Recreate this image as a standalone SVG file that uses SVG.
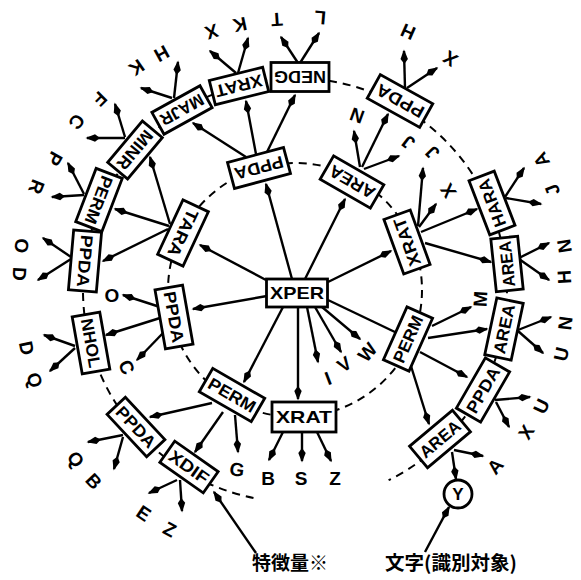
<svg xmlns="http://www.w3.org/2000/svg" width="581" height="580" viewBox="0 0 581 580">
<defs>
<style>
.box{fill:#fff;stroke:#000;stroke-width:2.8}
.bt{font-family:'Liberation Sans',Arial,sans-serif;font-weight:bold;font-size:17px;text-anchor:middle}
.lb{font-family:'Liberation Sans',Arial,sans-serif;font-weight:bold;font-size:19px;text-anchor:middle}
.ed{stroke:#000;stroke-width:2.4;fill:none;marker-end:url(#ah)}
.pl{stroke:#000;stroke-width:2.4;fill:none}
.dash{fill:none;stroke:#000;stroke-width:2;stroke-dasharray:8 6}
.jp{font-family:'Noto Sans CJK JP','Noto Sans CJK SC',sans-serif;font-weight:bold;font-size:19px}
</style>
<marker id="ah" markerWidth="16" markerHeight="9" refX="13" refY="4.5" orient="auto" markerUnits="userSpaceOnUse">
<path d="M0,4.5 L5,0.8 L14.5,4.5 L5,8.2 Z" fill="#000"/>
</marker>
</defs>
<rect width="581" height="580" fill="#fff"/>
<g id="rings">
<circle class="dash" cx="295" cy="290" r="127"/>
<path class="dash" d="M253.5,497.9 A212,212 0 1 1 388.6,480.2"/>
</g>
<g id="connectors">
<line class="ed" x1="266" y1="280" x2="200" y2="245"/>
<line class="ed" x1="267" y1="296" x2="193" y2="309"/>
<line class="ed" x1="292" y1="279" x2="266" y2="184"/>
<line class="ed" x1="305" y1="279" x2="345" y2="199"/>
<line class="ed" x1="328" y1="282" x2="391" y2="251"/>
<line class="pl" x1="328" y1="300" x2="397" y2="333"/>
<line class="ed" x1="307" y1="307" x2="318" y2="362"/>
<line class="ed" x1="315" y1="307" x2="341" y2="352"/>
<line class="ed" x1="322" y1="307" x2="360" y2="339"/>
<line class="ed" x1="298" y1="307" x2="298" y2="399"/>
<line class="ed" x1="283" y1="307" x2="244" y2="382"/>
<line class="ed" x1="169" y1="226" x2="115" y2="209"/>
<line class="ed" x1="170" y1="224" x2="150" y2="157"/>
<line class="ed" x1="168" y1="229" x2="103" y2="261"/>
<line class="ed" x1="246" y1="157" x2="193" y2="123"/>
<line class="ed" x1="256" y1="154" x2="246" y2="101"/>
<line class="ed" x1="267" y1="152" x2="295" y2="95"/>
<line class="ed" x1="360" y1="167" x2="354" y2="131"/>
<line class="ed" x1="362" y1="167" x2="388" y2="114"/>
<line class="ed" x1="364" y1="169" x2="399" y2="156"/>
<line class="ed" x1="405" y1="88" x2="404" y2="51"/>
<line class="ed" x1="407" y1="88" x2="437" y2="68"/>
<line class="ed" x1="418" y1="226" x2="423" y2="168"/>
<line class="ed" x1="419" y1="227" x2="436" y2="204"/>
<line class="ed" x1="421" y1="232" x2="477" y2="209"/>
<line class="ed" x1="425" y1="243" x2="491" y2="262"/>
<line class="ed" x1="505" y1="197" x2="524" y2="168"/>
<line class="ed" x1="506" y1="198" x2="541" y2="204"/>
<line class="ed" x1="519" y1="258" x2="549" y2="243"/>
<line class="ed" x1="519" y1="259" x2="549" y2="280"/>
<line class="ed" x1="432" y1="326" x2="471" y2="307"/>
<line class="ed" x1="428" y1="338" x2="487" y2="329"/>
<line class="ed" x1="420" y1="352" x2="467" y2="377"/>
<line class="ed" x1="411" y1="366" x2="429" y2="424"/>
<line class="ed" x1="518" y1="330" x2="551" y2="317"/>
<line class="ed" x1="518" y1="331" x2="543" y2="353"/>
<line class="ed" x1="495" y1="400" x2="530" y2="397"/>
<line class="ed" x1="496" y1="402" x2="509" y2="427"/>
<line class="ed" x1="454" y1="450" x2="483" y2="456"/>
<line class="ed" x1="452" y1="452" x2="456" y2="479"/>
<line class="ed" x1="212" y1="403" x2="150" y2="417"/>
<line class="ed" x1="223" y1="412" x2="195" y2="452"/>
<line class="ed" x1="235" y1="415" x2="238" y2="452"/>
<line class="ed" x1="283" y1="432" x2="269" y2="460"/>
<line class="ed" x1="302" y1="432" x2="302" y2="461"/>
<line class="ed" x1="317" y1="432" x2="331" y2="461"/>
<line class="ed" x1="177" y1="480" x2="149" y2="493"/>
<line class="ed" x1="180" y1="480" x2="182" y2="511"/>
<line class="ed" x1="123" y1="435" x2="88" y2="442"/>
<line class="ed" x1="123" y1="437" x2="114" y2="469"/>
<line class="ed" x1="75" y1="346" x2="44" y2="335"/>
<line class="ed" x1="75" y1="348" x2="50" y2="371"/>
<line class="ed" x1="71" y1="257" x2="43" y2="238"/>
<line class="ed" x1="71" y1="259" x2="38" y2="280"/>
<line class="ed" x1="160" y1="307" x2="123" y2="295"/>
<line class="ed" x1="160" y1="318" x2="106" y2="335"/>
<line class="ed" x1="163" y1="333" x2="137" y2="360"/>
<line class="ed" x1="84" y1="194" x2="68" y2="163"/>
<line class="ed" x1="84" y1="195" x2="52" y2="197"/>
<line class="ed" x1="125" y1="137" x2="115" y2="104"/>
<line class="ed" x1="125" y1="138" x2="87" y2="138"/>
<line class="ed" x1="174" y1="98" x2="178" y2="62"/>
<line class="ed" x1="172" y1="98" x2="141" y2="88"/>
<line class="ed" x1="236" y1="73" x2="210" y2="51"/>
<line class="ed" x1="238" y1="73" x2="248" y2="38"/>
<line class="ed" x1="298" y1="63" x2="281" y2="37"/>
<line class="ed" x1="300" y1="63" x2="319" y2="33"/>
<line class="ed" x1="256" y1="553" x2="214" y2="492"/>
<line class="ed" x1="425" y1="552" x2="449" y2="507"/>
</g>
<g id="n-xper" transform="translate(297,293)"><rect class="box" x="-30.5" y="-14" width="61" height="28"/><text class="bt" y="6" textLength="54" lengthAdjust="spacingAndGlyphs">XPER</text></g>
<g id="n-tara" transform="translate(183,233) rotate(115)"><rect class="box" x="-30" y="-14" width="60" height="28"/><text class="bt" y="6" textLength="50" lengthAdjust="spacingAndGlyphs">TARA</text></g>
<g id="n-ppda-top" transform="translate(259,168) rotate(165)"><rect class="box" x="-29" y="-13.5" width="58" height="27"/><text class="bt" y="6" textLength="50" lengthAdjust="spacingAndGlyphs">PPDA</text></g>
<g id="n-area-top" transform="translate(352,182) rotate(-150)"><rect class="box" x="-29" y="-13.5" width="58" height="27"/><text class="bt" y="6" textLength="50" lengthAdjust="spacingAndGlyphs">AREA</text></g>
<g id="n-xrat-right" transform="translate(407,242) rotate(-110)"><rect class="box" x="-29" y="-14" width="58" height="28"/><text class="bt" y="6" textLength="50" lengthAdjust="spacingAndGlyphs">XRAT</text></g>
<g id="n-perm-right" transform="translate(408,339) rotate(-66)"><rect class="box" x="-29" y="-14" width="58" height="28"/><text class="bt" y="6" textLength="50" lengthAdjust="spacingAndGlyphs">PERM</text></g>
<g id="n-xrat-bottom" transform="translate(304,417)"><rect class="box" x="-32" y="-15" width="64" height="30"/><text class="bt" y="6" textLength="56" lengthAdjust="spacingAndGlyphs">XRAT</text></g>
<g id="n-perm-ll" transform="translate(232,395) rotate(30)"><rect class="box" x="-30" y="-13.5" width="60" height="27"/><text class="bt" y="6" textLength="52" lengthAdjust="spacingAndGlyphs">PERM</text></g>
<g id="n-ppda-left" transform="translate(174,317) rotate(80)"><rect class="box" x="-30" y="-14" width="60" height="28"/><text class="bt" y="6" textLength="52" lengthAdjust="spacingAndGlyphs">PPDA</text></g>
<g id="n-nedg" transform="translate(300,77) rotate(180)"><rect class="box" x="-29" y="-14.5" width="58" height="29"/><text class="bt" y="6" textLength="52" lengthAdjust="spacingAndGlyphs">NEDG</text></g>
<g id="n-xrat-top" transform="translate(239,86) rotate(166)"><rect class="box" x="-27.5" y="-12.5" width="55" height="25"/><text class="bt" y="6" textLength="48" lengthAdjust="spacingAndGlyphs">XRAT</text></g>
<g id="n-majr" transform="translate(182,110) rotate(151)"><rect class="box" x="-27.5" y="-12.5" width="55" height="25"/><text class="bt" y="6" textLength="47" lengthAdjust="spacingAndGlyphs">MAJR</text></g>
<g id="n-minr" transform="translate(135,150) rotate(130)"><rect class="box" x="-27" y="-13" width="54" height="26"/><text class="bt" y="6" textLength="46" lengthAdjust="spacingAndGlyphs">MINR</text></g>
<g id="n-perm-out" transform="translate(99,200) rotate(111)"><rect class="box" x="-28.5" y="-14" width="57" height="28"/><text class="bt" y="6" textLength="50" lengthAdjust="spacingAndGlyphs">PERM</text></g>
<g id="n-ppda-out-left" transform="translate(85,261) rotate(95)"><rect class="box" x="-30" y="-14" width="60" height="28"/><text class="bt" y="6" textLength="52" lengthAdjust="spacingAndGlyphs">PPDA</text></g>
<g id="n-nhol" transform="translate(91,343) rotate(80)"><rect class="box" x="-29" y="-14" width="58" height="28"/><text class="bt" y="6" textLength="50" lengthAdjust="spacingAndGlyphs">NHOL</text></g>
<g id="n-ppda-out-ll" transform="translate(136,427) rotate(47)"><rect class="box" x="-29" y="-12.5" width="58" height="25"/><text class="bt" y="6" textLength="50" lengthAdjust="spacingAndGlyphs">PPDA</text></g>
<g id="n-xdif" transform="translate(189,467) rotate(35)"><rect class="box" x="-26.5" y="-13" width="53" height="26"/><text class="bt" y="6" textLength="45" lengthAdjust="spacingAndGlyphs">XDIF</text></g>
<g id="n-area-lr" transform="translate(440,439) rotate(-40)"><rect class="box" x="-28" y="-14" width="56" height="28"/><text class="bt" y="6" textLength="48" lengthAdjust="spacingAndGlyphs">AREA</text></g>
<g id="n-ppda-out-right" transform="translate(483,390) rotate(-60)"><rect class="box" x="-29" y="-14" width="58" height="28"/><text class="bt" y="6" textLength="50" lengthAdjust="spacingAndGlyphs">PPDA</text></g>
<g id="n-area-rl" transform="translate(504,329) rotate(-78)"><rect class="box" x="-29" y="-13.5" width="58" height="27"/><text class="bt" y="6" textLength="50" lengthAdjust="spacingAndGlyphs">AREA</text></g>
<g id="n-area-ru" transform="translate(507,264) rotate(-96)"><rect class="box" x="-26.5" y="-13.5" width="53" height="27"/><text class="bt" y="6" textLength="46" lengthAdjust="spacingAndGlyphs">AREA</text></g>
<g id="n-hara" transform="translate(492,203) rotate(-111)"><rect class="box" x="-29" y="-13.5" width="58" height="27"/><text class="bt" y="6" textLength="50" lengthAdjust="spacingAndGlyphs">HARA</text></g>
<g id="n-ppda-out-tr" transform="translate(400,101) rotate(-151)"><rect class="box" x="-30" y="-13.5" width="60" height="27"/><text class="bt" y="6" textLength="52" lengthAdjust="spacingAndGlyphs">PPDA</text></g>
<g id="n-y" transform="translate(458,494)"><circle class="box" r="14"/><text class="bt" y="6">Y</text></g>
<g id="leaves">
<g id="l-t" transform="translate(277,20) rotate(176)"><text class="lb" y="7">T</text></g>
<g id="l-l" transform="translate(320,18) rotate(-175)"><text class="lb" y="7">L</text></g>
<g id="l-x1" transform="translate(212,32) rotate(162)"><text class="lb" y="7">X</text></g>
<g id="l-k1" transform="translate(240,25) rotate(168)"><text class="lb" y="7">K</text></g>
<g id="l-h1" transform="translate(162,54) rotate(151)"><text class="lb" y="7">H</text></g>
<g id="l-k2" transform="translate(137,68) rotate(145)"><text class="lb" y="7">K</text></g>
<g id="l-f" transform="translate(100,99) rotate(135)"><text class="lb" y="7">F</text></g>
<g id="l-c1" transform="translate(77,122) rotate(128)"><text class="lb" y="7">C</text></g>
<g id="l-p" transform="translate(55,159) rotate(119)"><text class="lb" y="7">P</text></g>
<g id="l-r" transform="translate(37,187) rotate(112)"><text class="lb" y="7">R</text></g>
<g id="l-o1" transform="translate(22,246) rotate(99)"><text class="lb" y="7">O</text></g>
<g id="l-d1" transform="translate(20,274) rotate(93)"><text class="lb" y="7">D</text></g>
<g id="l-d2" transform="translate(27,348) rotate(78)"><text class="lb" y="7">D</text></g>
<g id="l-q1" transform="translate(35,380) rotate(71)"><text class="lb" y="7">Q</text></g>
<g id="l-q2" transform="translate(76,459) rotate(52)"><text class="lb" y="7">Q</text></g>
<g id="l-b1" transform="translate(94,481) rotate(47)"><text class="lb" y="7">B</text></g>
<g id="l-e" transform="translate(144,513) rotate(34)"><text class="lb" y="7">E</text></g>
<g id="l-z1" transform="translate(170,529) rotate(28)"><text class="lb" y="7">Z</text></g>
<g id="l-g" transform="translate(237,469) rotate(8)"><text class="lb" y="7">G</text></g>
<g id="l-b2" transform="translate(268,478)"><text class="lb" y="7">B</text></g>
<g id="l-s" transform="translate(301,478)"><text class="lb" y="7">S</text></g>
<g id="l-z2" transform="translate(335,478)"><text class="lb" y="7">Z</text></g>
<g id="l-i" transform="translate(328,378) rotate(-21)"><text class="lb" y="7">I</text></g>
<g id="l-v" transform="translate(344,364) rotate(-34)"><text class="lb" y="7">V</text></g>
<g id="l-w" transform="translate(367,352) rotate(-49)"><text class="lb" y="7">W</text></g>
<g id="l-o2" transform="translate(112,295)"><text class="lb" y="7">O</text></g>
<g id="l-c2" transform="translate(127,367) rotate(65)"><text class="lb" y="7">C</text></g>
<g id="l-m" transform="translate(480,299) rotate(-87)"><text class="lb" y="7">M</text></g>
<g id="l-x2" transform="translate(448,191) rotate(-123)"><text class="lb" y="7">X</text></g>
<g id="l-j1" transform="translate(432,153) rotate(-134)"><text class="lb" y="7">J</text></g>
<g id="l-n1" transform="translate(357,116) rotate(-160)"><text class="lb" y="7">N</text></g>
<g id="l-j2" transform="translate(408,143) rotate(-143)"><text class="lb" y="7">J</text></g>
<g id="l-h2" transform="translate(408,32) rotate(-156)"><text class="lb" y="7">H</text></g>
<g id="l-x3" transform="translate(450,59) rotate(-146)"><text class="lb" y="7">X</text></g>
<g id="l-a1" transform="translate(541,160) rotate(-118)"><text class="lb" y="7">A</text></g>
<g id="l-j3" transform="translate(552,190) rotate(-111)"><text class="lb" y="7">J</text></g>
<g id="l-n2" transform="translate(564,246) rotate(-99)"><text class="lb" y="7">N</text></g>
<g id="l-h3" transform="translate(564,277) rotate(-93)"><text class="lb" y="7">H</text></g>
<g id="l-n3" transform="translate(565,323) rotate(-83)"><text class="lb" y="7">N</text></g>
<g id="l-u1" transform="translate(561,354) rotate(-77)"><text class="lb" y="7">U</text></g>
<g id="l-u2" transform="translate(541,406) rotate(-65)"><text class="lb" y="7">U</text></g>
<g id="l-x4" transform="translate(526,432) rotate(-58)"><text class="lb" y="7">X</text></g>
<g id="l-a2" transform="translate(495,466) rotate(-49)"><text class="lb" y="7">A</text></g>
</g>
<g id="captions">
<text class="jp" x="252" y="570" textLength="76" lengthAdjust="spacingAndGlyphs">特徴量※</text>
<text class="jp" x="385" y="570" textLength="132" lengthAdjust="spacingAndGlyphs">文字(識別対象)</text>
</g>
</svg>
